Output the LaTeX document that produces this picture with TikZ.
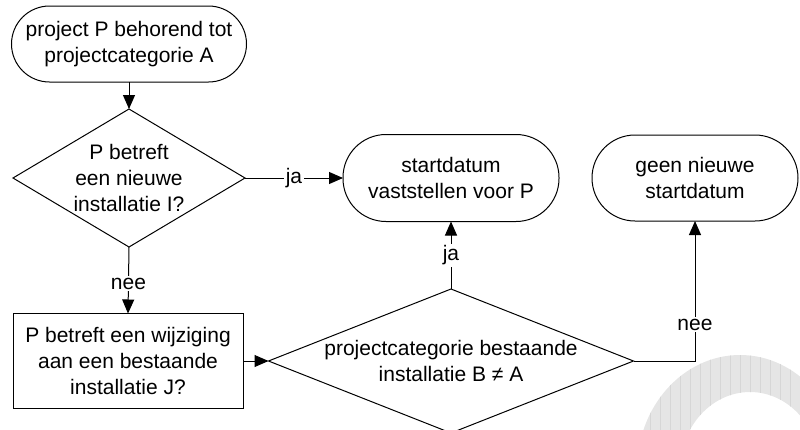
\documentclass[tikz,border=0pt]{standalone}
\usepackage{fontspec}
\setmainfont{Liberation Sans}
\usetikzlibrary{shapes.geometric,arrows.meta}
\begin{document}
\begin{tikzpicture}[x=1pt,y=-1pt,
  every node/.style={font=\fontsize{21pt}{26pt}\selectfont, align=center, outer sep=0pt},
  term/.style={draw, line width=1pt, rectangle, inner sep=0pt},
  dia/.style={draw, line width=1pt, diamond, inner sep=0pt},
  box/.style={draw, line width=1pt, rectangle, inner sep=0pt},
  conn/.style={line width=1pt, -{Triangle[length=14pt,width=12pt]}},
  lbl/.style={fill=white, inner sep=1.5pt}]
\useasboundingbox (0,0) rectangle (800,429);
% watermark
\begin{scope}
  \clip (0,0) rectangle (800,429);
  \fill[gray!20, even odd rule] (740,470) ellipse [x radius=103, y radius=115]
                                (750,470) ellipse [x radius=70, y radius=78];
  \begin{scope}[even odd rule]
    \clip (740,470) ellipse [x radius=103, y radius=115]
          (750,470) ellipse [x radius=70, y radius=78];
    \draw[gray!32, line width=0.7pt] (637,347) grid[step=10] (810,440);
  \end{scope}
\end{scope}
% nodes
\node[term, rounded corners=38pt, minimum width=235, minimum height=76] (start) at (129,44) {project P behorend tot\\projectcategorie A};
\node[dia, minimum width=232, minimum height=138] (d1) at (129,178) {};
\node at (d1) {P betreft\\een nieuwe\\installatie I?};
\node[term, rounded corners=43pt, minimum width=216, minimum height=87] (t2) at (451,178) {startdatum\\vaststellen voor P};
\node[term, rounded corners=43pt, minimum width=206, minimum height=86] (t3) at (695,178) {geen nieuwe\\startdatum};
\node[box, minimum width=230, minimum height=95] (box) at (128,361) {P betreft een wijziging\\aan een bestaande\\installatie J?};
\node[dia, minimum width=365, minimum height=144] (d2) at (451,361) {};
\node at (d2) {projectcategorie bestaande\\installatie B ≠ A};
% connectors
\draw[conn] (start.south) -- (d1.north);
\draw[conn] (d1.east) -- node[lbl] {ja} (t2.west);
\draw[conn] (d1.south) -- node[lbl, pos=0.55] {nee} (box.north);
\draw[conn] (box.east) -- (d2.west);
\draw[conn] (d2.north) -- node[lbl] {ja} (t2.south);
\draw[conn] (d2.east) -| node[lbl, pos=0.63] {nee} (t3.south);
\end{tikzpicture}
\end{document}
